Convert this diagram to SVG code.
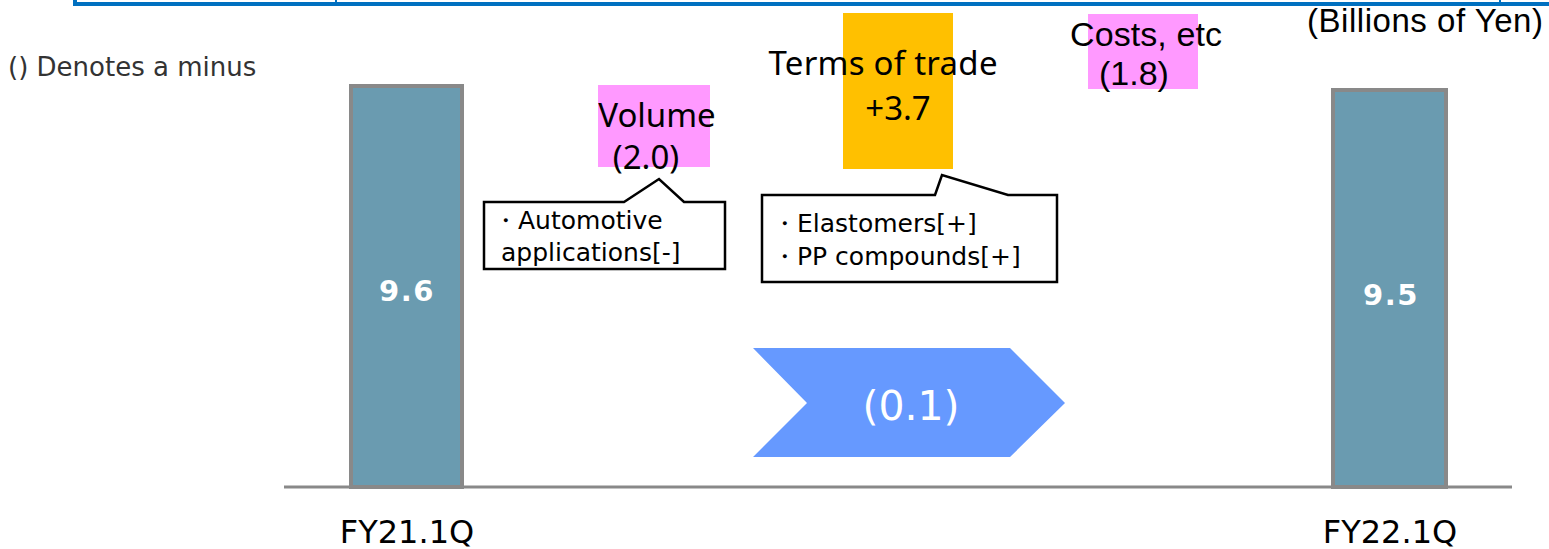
<svg xmlns="http://www.w3.org/2000/svg" width="1549" height="549" viewBox="0 0 1549 549">
<style>
.bar{fill:#6A9BB0;stroke:#898989;stroke-width:4}
.barlbl{font-family:"DejaVu Sans",sans-serif;font-weight:bold;font-size:29px;letter-spacing:1.5px;fill:#fff;text-anchor:middle}
.axlbl{font-family:"DejaVu Sans",sans-serif;font-size:32px;fill:#000;text-anchor:middle}
.big{font-family:"Noto Sans","Liberation Sans",sans-serif;font-size:33px;fill:#000;text-anchor:middle}
.lib{font-family:"Liberation Sans",sans-serif;font-size:34px;fill:#000;text-anchor:middle}
.call{fill:#fff;stroke:#000;stroke-width:2.5}
.ctext{font-family:"DejaVu Sans",sans-serif;font-size:25px;fill:#000}
</style>
<g id="frame">
<path d="M75 0 V4 H1549" fill="none" stroke="#0070C0" stroke-width="4"/>
<line x1="336" y1="0" x2="336" y2="4" stroke="#0070C0" stroke-width="2"/>
<line x1="1500" y1="0" x2="1500" y2="6" stroke="#0070C0" stroke-width="2"/>
</g>
<text id="note" x="8" y="76" font-family="DejaVu Sans,sans-serif" font-size="26" fill="#333">() Denotes a minus</text>
<text id="unit" x="1307" y="32" font-family="Liberation Sans,sans-serif" font-size="33" fill="#000" textLength="236">(Billions of Yen)</text>
<g id="axis"><line x1="284" y1="487" x2="1512" y2="487" stroke="#898989" stroke-width="3"/></g>
<g id="bar-fy21">
<rect class="bar" x="351" y="86" width="111" height="401"/>
<text class="barlbl" x="407" y="301">9.6</text>
<text class="axlbl" x="407" y="543">FY21.1Q</text>
</g>
<g id="bar-fy22">
<rect class="bar" x="1333" y="90" width="113" height="397"/>
<text class="barlbl" x="1391" y="305">9.5</text>
<text class="axlbl" x="1390" y="543">FY22.1Q</text>
</g>
<g id="volume">
<rect x="598" y="85" width="112" height="82" fill="#FF99FF"/>
<text class="big" x="657" y="127">Volume</text>
<text class="big" x="646" y="169">(2.0)</text>
</g>
<g id="terms">
<rect x="843" y="13" width="110" height="156" fill="#FFC000"/>
<text class="big" x="883" y="75" textLength="229">Terms of trade</text>
<text class="big" x="898" y="120">+3.7</text>
</g>
<g id="costs">
<rect x="1088" y="14" width="110" height="75" fill="#FF99FF"/>
<text class="lib" x="1146" y="46" textLength="152">Costs, etc</text>
<text class="lib" x="1134" y="85">(1.8)</text>
</g>
<g id="callout-volume">
<path class="call" d="M484 202 H624 L659 179 L684 202 H725 V269 H484 Z"/>
<text class="ctext" x="493" y="229">・Automotive</text>
<text class="ctext" x="501" y="261">applications[-]</text>
</g>
<g id="callout-terms">
<path class="call" d="M762 195 H935 L942 175 L1008 195 H1057 V282 H762 Z"/>
<text class="ctext" x="772" y="232">・Elastomers[+]</text>
<text class="ctext" x="772" y="265">・PP compounds[+]</text>
</g>
<g id="total">
<polygon points="753,348 1010,348 1065,403 1010,457 753,457 807,403" fill="#6699FF"/>
<text x="911" y="420" font-family="DejaVu Sans,sans-serif" font-size="41" fill="#fff" text-anchor="middle">(0.1)</text>
</g>
</svg>
